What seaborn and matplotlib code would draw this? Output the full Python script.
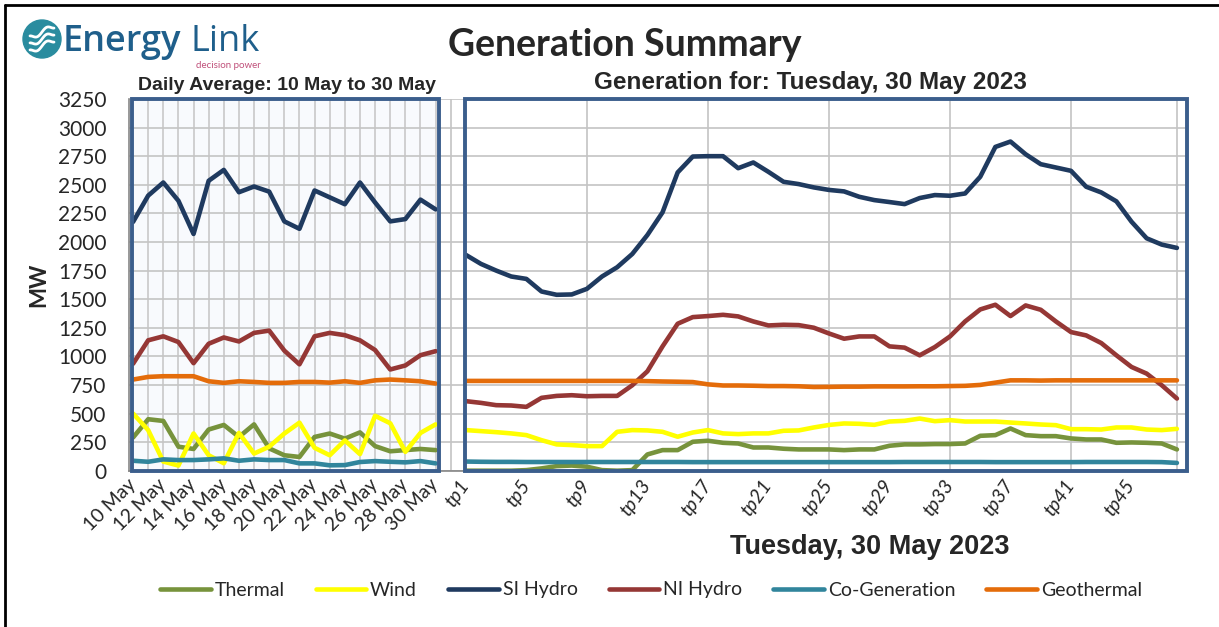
import numpy as np
import pandas as pd
import matplotlib
matplotlib.use("Agg")
import matplotlib.pyplot as plt
import seaborn as sns
from matplotlib.patches import Rectangle, Circle
from matplotlib.lines import Line2D

# Daily averages, 10 May to 30 May (MW)
days = ['10 May', '11 May', '12 May', '13 May', '14 May', '15 May', '16 May', '17 May',
        '18 May', '19 May', '20 May', '21 May', '22 May', '23 May', '24 May', '25 May',
        '26 May', '27 May', '28 May', '29 May', '30 May']
thermal_day = [290, 450, 435, 210, 190, 360, 400, 295, 405, 195, 135, 120, 295, 325, 280, 335, 215, 170, 180, 190, 180]
wind_day = [500, 355, 80, 45, 325, 135, 65, 330, 150, 210, 325, 420, 200, 135, 265, 145, 480, 415, 165, 330, 405]
si_day = [2175, 2405, 2520, 2360, 2070, 2535, 2630, 2435, 2485, 2440, 2180, 2115, 2450, 2390, 2330, 2520, 2345, 2180, 2200, 2370, 2285]
ni_day = [935, 1140, 1175, 1125, 940, 1110, 1165, 1130, 1205, 1225, 1050, 930, 1175, 1205, 1185, 1140, 1055, 885, 920, 1010, 1045]
cogen_day = [87, 78, 99, 93, 93, 99, 108, 87, 99, 93, 93, 64, 64, 47, 49, 76, 84, 78, 73, 84, 64]
geo_day = [797, 820, 826, 826, 826, 782, 768, 782, 776, 768, 768, 776, 776, 770, 782, 768, 790, 797, 790, 782, 762]

# Trading periods, Tuesday 30 May 2023 (MW)
tps = ['tp%d' % i for i in range(1, 49)]
thermal_tp = [0, 0, 0, 0, 5, 20, 40, 45, 35, 5, 0, 5, 142, 180, 180, 253, 262, 244, 238, 203,
              203, 192, 186, 186, 186, 180, 186, 186, 218, 230, 230, 233, 233, 238, 305, 311, 369, 311,
              302, 302, 282, 273, 273, 244, 247, 244, 238, 186]
wind_tp = [355, 346, 337, 326, 311, 267, 230, 224, 215, 215, 340, 355, 352, 340, 297, 334, 355, 326,
           320, 326, 326, 349, 352, 378, 400, 413, 410, 401, 430, 436, 456, 433, 442, 430, 430, 430,
           421, 413, 404, 398, 363, 363, 360, 378, 378, 360, 355, 366]
si_tp = [1887, 1808, 1750, 1698, 1677, 1567, 1538, 1541, 1590, 1698, 1779, 1895, 2061, 2259, 2608,
         2747, 2750, 2750, 2645, 2695, 2613, 2526, 2506, 2477, 2455, 2442, 2395, 2366, 2349, 2331,
         2384, 2410, 2404, 2424, 2570, 2831, 2878, 2767, 2680, 2651, 2622, 2483, 2433, 2355, 2177,
         2032, 1977, 1948]
ni_tp = [608, 593, 573, 570, 558, 637, 654, 660, 651, 654, 654, 747, 869, 1087, 1285, 1343, 1352,
         1363, 1349, 1305, 1270, 1276, 1273, 1250, 1200, 1154, 1174, 1174, 1087, 1076, 1009, 1081,
         1174, 1305, 1410, 1451, 1352, 1445, 1407, 1305, 1212, 1183, 1116, 1009, 907, 849, 747, 631]
cogen_tp = [80, 78, 77, 77, 76, 76, 76, 76, 76, 76, 76, 76, 76, 76, 76, 75, 75, 75, 75, 75, 75, 75,
            75, 75, 75, 75, 75, 75, 75, 76, 76, 76, 76, 76, 76, 75, 75, 75, 75, 75, 75, 76, 76, 76,
            76, 76, 75, 68]
geo_tp = [785, 785, 785, 785, 785, 785, 785, 785, 785, 785, 785, 785, 783, 780, 778, 775, 755, 745,
          745, 743, 740, 740, 738, 732, 733, 735, 735, 737, 737, 737, 738, 738, 740, 742, 750, 770,
          790, 790, 788, 790, 790, 790, 790, 790, 790, 790, 790, 790]

sources = ['Thermal', 'Wind', 'SI Hydro', 'NI Hydro', 'Co-Generation', 'Geothermal']
colors = ['#77933C', '#FFFF00', '#1F3A5F', '#953735', '#31859C', '#E46C0A']
day_series = [thermal_day, wind_day, si_day, ni_day, cogen_day, geo_day]
tp_series = [thermal_tp, wind_tp, si_tp, ni_tp, cogen_tp, geo_tp]

# one category axis: days, a blank spacer, then trading periods
categories = days + [''] + tps
pos = {c: i for i, c in enumerate(categories)}

rows = []
for src, dvals, tvals in zip(sources, day_series, tp_series):
    for c, v in zip(days, dvals):
        rows.append((src, 'daily', pos[c], v))
    for c, v in zip(tps, tvals):
        rows.append((src, 'tp', pos[c], v))
df = pd.DataFrame(rows, columns=['source', 'panel', 'x', 'MW'])

sns.set_style('white')
plt.rcParams['font.family'] = ['Lato', 'DejaVu Sans']

W, H = 1219, 627
fig = plt.figure(figsize=(W / 100, H / 100), dpi=100)
ax = fig.add_axes([128.5 / W, 156.3 / H, 1059 / W, 371.7 / H])

frame_col = '#3B5E8C'
grid_col = '#C4C4C4'

# panel backgrounds and grid
ax.add_patch(Rectangle((-0.07, 0), 20.3, 3250, facecolor='#F8FAFD', edgecolor='none', zorder=0))
ax.set_axisbelow(True)
ax.yaxis.grid(True, color=grid_col, lw=1.2)
ax.vlines(range(1, 21), 0, 3250, color=grid_col, lw=1.1, zorder=0.5)
ax.vlines([21, 30, 38, 46, 54, 62, 69], 0, 3250, color=grid_col, lw=1.2, zorder=0.5)

sns.lineplot(data=df, x='x', y='MW', hue='source', units='panel', estimator=None,
             hue_order=sources, palette=colors, lw=3.3, legend=False, ax=ax, zorder=3)

# panel frames
for x0, x1 in [(-0.07, 20.25), (21.95, 69.65)]:
    ax.add_patch(Rectangle((x0, 0), x1 - x0, 3250, facecolor='none', edgecolor=frame_col,
                           lw=2.8, zorder=5, clip_on=False))

ax.set_xlim(-0.3, 69.7)
ax.set_ylim(0, 3250)
ax.set_yticks(range(0, 3251, 250))
ax.set_xticks(range(len(categories)))
xlabels = []
for i, c in enumerate(categories):
    if c in days:
        xlabels.append(c if i % 2 == 0 else '')
    elif c in tps:
        n = int(c[2:])
        xlabels.append(c if n % 4 == 1 else '')
    else:
        xlabels.append('')
ax.set_xticklabels(xlabels)
ax.tick_params(axis='both', direction='out', length=5, color='#868686', width=1.2, labelsize=14)
ax.tick_params(axis='y', labelsize=15, pad=11)
ax.tick_params(axis='x', pad=3)
for lbl in ax.get_xticklabels():
    t = lbl.get_text()
    lbl.set_ha('right')
    lbl.set_va('center')
    lbl.set_rotation_mode('anchor')
    if t.startswith('tp'):
        lbl.set_rotation(55)
        lbl.set_style('italic')
    else:
        lbl.set_rotation(45)
for s in ['top', 'right']:
    ax.spines[s].set_visible(False)
for s in ['left', 'bottom']:
    ax.spines[s].set_color('#868686')
    ax.spines[s].set_linewidth(1.2)
ax.set_xlabel('')
ax.set_ylabel('MW', fontsize=16, fontweight='bold', labelpad=6)

# titles
fig.text(625 / W, 1 - 45 / H, 'Generation Summary', ha='center', va='center',
         fontsize=27, fontweight='bold')
fig.text(287 / W, 1 - 85 / H, 'Daily Average: 10 May to 30 May', ha='center', va='center',
         fontsize=14, fontweight='bold', family='Liberation Sans')
fig.text(810 / W, 1 - 82 / H, 'Generation for: Tuesday, 30 May 2023', ha='center', va='center',
         fontsize=17.5, fontweight='bold', family='Liberation Sans')
fig.text(870 / W, 1 - 547 / H, 'Tuesday, 30 May 2023', ha='center', va='center',
         fontsize=19.5, fontweight='bold', family=['Liberation Sans Narrow', 'Liberation Sans'])

# logo
lax = fig.add_axes([22 / W, 1 - 59 / H, 40 / W, 40 / H])
lax.set_xlim(-1, 1)
lax.set_ylim(-1, 1)
lax.set_aspect('equal')
lax.axis('off')
lax.add_patch(Circle((0, 0), 0.95, color='#2A8C9F'))
tt = np.linspace(-0.6, 0.6, 40)
for off in (-0.35, 0.0, 0.35):
    lax.plot(tt, off + 0.5 * tt + 0.12 * np.sin(tt * 7), color='white', lw=2)
t_energy = fig.text(63 / W, 1 - 51 / H, 'Energy', ha='left', va='baseline', fontsize=26,
                    fontweight='semibold', color='#1F5F8B', family='Open Sans')
fig.canvas.draw()
bb = t_energy.get_window_extent(fig.canvas.get_renderer())
fig.text((bb.x1 + 9) / W, 1 - 51 / H, 'Link', ha='left', va='baseline', fontsize=26,
         color='#1F5F8B', family='Open Sans')
fig.text(228 / W, 1 - 66 / H, 'decision power', ha='center', va='center', fontsize=7,
         color='#C0507A')

# outer frame
fig.add_artist(Line2D([4.5 / W, 1], [1 - 5 / H, 1 - 5 / H], transform=fig.transFigure, color='black', lw=2))
fig.add_artist(Line2D([4.5 / W, 4.5 / W], [0, 1 - 5 / H], transform=fig.transFigure, color='black', lw=2))

# legend
handles = [Line2D([], [], color=c, lw=3.3) for c in colors]
fig.legend(handles, sources, loc='center', bbox_to_anchor=(651 / W, 1 - 590 / H), ncol=6,
           frameon=False, fontsize=14, handlelength=2.6, handletextpad=0.2, columnspacing=1.6)

fig.savefig('out.png', dpi=100)
